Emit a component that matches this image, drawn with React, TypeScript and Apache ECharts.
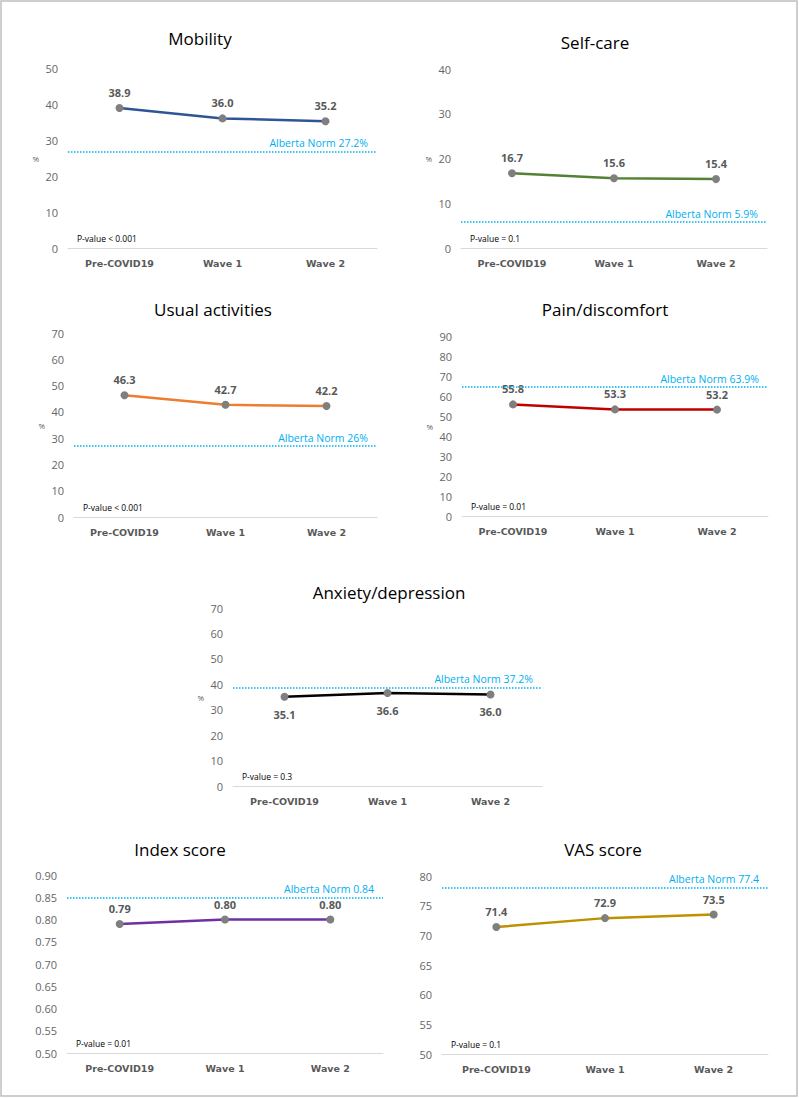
import React, { useEffect, useRef } from "react";
import * as echarts from "echarts";

const categories = ["Pre-COVID19", "Wave 1", "Wave 2"];

const titles = ["Mobility", "Self-care", "Usual activities", "Pain/discomfort", "Anxiety/depression", "Index score", "VAS score"];
const mobility = [38.9, 36.0, 35.2];
const selfCare = [16.7, 15.6, 15.4];
const usualActivities = [46.3, 42.7, 42.2];
const painDiscomfort = [55.8, 53.3, 53.2];
const anxietyDepression = [35.1, 36.6, 36.0];
const indexScore = [0.79, 0.8, 0.8];
const vasScore = [71.4, 72.9, 73.5];
const seriesValues = [mobility, selfCare, usualActivities, painDiscomfort, anxietyDepression, indexScore, vasScore];

const normValues = [26.8, 5.8, 27, 64.5, 38.6, 0.847, 78.1];
const normLabels = ["Alberta Norm 27.2%", "Alberta Norm 5.9%", "Alberta Norm 26%", "Alberta Norm 63.9%", "Alberta Norm 37.2%", "Alberta Norm 0.84", "Alberta Norm 77.4"];
const pValues = ["P-value < 0.001", "P-value = 0.1", "P-value < 0.001", "P-value = 0.01", "P-value = 0.3", "P-value = 0.01", "P-value = 0.1"];

const yMin = [0, 0, 0, 0, 0, 0.5, 50];
const yMax = [50, 40, 70, 90, 70, 0.9, 80];
const yStep = [10, 10, 10, 10, 10, 0.05, 5];
const decimals = [0, 0, 0, 0, 0, 2, 0];
const showPercent = [true, true, true, true, true, false, false];

// layout (style only)
const grids = [
  { left: 68, top: 68, width: 309, height: 180 },
  { left: 461, top: 69, width: 306, height: 179 },
  { left: 74, top: 333, width: 303, height: 184 },
  { left: 462, top: 336, width: 306, height: 180 },
  { left: 233, top: 608, width: 309, height: 178 },
  { left: 67, top: 875, width: 316, height: 178 },
  { left: 442, top: 876, width: 326, height: 178 },
];
const titlePos = [
  [200, 38], [595, 42], [213, 309], [605, 309], [389, 592], [180, 849], [603, 849],
];
const lineColors = ["#2F5597", "#548235", "#ED7D31", "#C00000", "#000000", "#7030A0", "#BF9000"];
const labelBelow = [false, false, false, false, true, false, false];

const GREY = "#595959";
const NORM = "#00B0F0";

export default function App() {
  const ref = useRef<HTMLDivElement>(null);
  useEffect(() => {
    if (!ref.current) return;
    const chart = echarts.init(ref.current, undefined, { renderer: "svg" });
    const graphic: any[] = [
      {
        type: "rect",
        shape: { x: 1, y: 1, width: 796, height: 1095 },
        style: { fill: "none", stroke: "#bfbfbf", lineWidth: 1.5 },
        silent: true,
      },
    ];
    titles.forEach((t, i) => {
      graphic.push({
        type: "text",
        x: titlePos[i][0],
        y: titlePos[i][1],
        style: {
          text: t,
          font: '17px "Open Sans", sans-serif',
          fill: "#000000",
          textAlign: "center",
          textVerticalAlign: "middle",
        },
      });
      const g = grids[i];
      graphic.push({
        type: "text",
        x: g.left + 9,
        y: g.top + g.height - 10,
        style: {
          text: pValues[i],
          font: '8.5px "Open Sans", sans-serif',
          fill: "#000000",
          textAlign: "left",
          textVerticalAlign: "middle",
        },
      });
    });

    const option: any = {
      animation: false,
      backgroundColor: "#ffffff",
      grid: grids.map((g) => ({ ...g, containLabel: false })),
      xAxis: grids.map((_, i) => ({
        type: "category",
        gridIndex: i,
        data: categories,
        boundaryGap: true,
        axisTick: { show: false },
        axisLine: { lineStyle: { color: "#d9d9d9", width: 1 } },
        axisLabel: {
          color: GREY,
          fontFamily: "DejaVu Sans",
          fontWeight: "bold",
          fontSize: 9.5,
          margin: 10,
        },
      })),
      yAxis: grids.map((_, i) => ({
        type: "value",
        gridIndex: i,
        min: yMin[i],
        max: yMax[i],
        interval: yStep[i],
        name: showPercent[i] ? "%" : "",
        nameLocation: "middle",
        nameRotate: 0,
        nameGap: 29,
        nameTextStyle: { color: GREY, fontSize: 8, fontFamily: "Open Sans" },
        splitLine: { show: false },
        axisLine: { show: false },
        axisTick: { show: false },
        axisLabel: {
          color: "#666666",
          fontSize: 11,
          fontFamily: "Open Sans",
          margin: 10,
          formatter: (v: number) => v.toFixed(decimals[i]),
        },
      })),
      series: seriesValues.map((vals, i) => ({
        type: "line",
        xAxisIndex: i,
        yAxisIndex: i,
        data: vals,
        symbol: "circle",
        symbolSize: 8,
        itemStyle: { color: "#7f7f7f" },
        lineStyle: { color: lineColors[i], width: 2.5 },
        z: 3,
        label: {
          show: true,
          position: labelBelow[i] ? "bottom" : "top",
          distance: labelBelow[i] ? 8 : 6,
          color: GREY,
          fontWeight: "bold",
          fontSize: 11,
          fontFamily: "Open Sans",
          formatter: (p: any) => Number(p.value).toFixed(decimals[i] === 2 ? 2 : 1),
        },
        markLine: {
          silent: true,
          symbol: "none",
          lineStyle: { color: NORM, type: "dotted", width: 1.5 },
          label: {
            show: true,
            position: "insideEndTop",
            formatter: normLabels[i],
            color: NORM,
            fontSize: 10.5,
            fontFamily: "Open Sans",
            distance: [9, 3],
          },
          data: [{ yAxis: normValues[i] }],
        },
      })),
      graphic,
    };
    chart.setOption(option);
    return () => chart.dispose();
  }, []);
  return (
    <div
      ref={ref}
      style={{ position: "absolute", left: 0, top: 0, width: 799, height: 1098, background: "#fff" }}
    />
  );
}
